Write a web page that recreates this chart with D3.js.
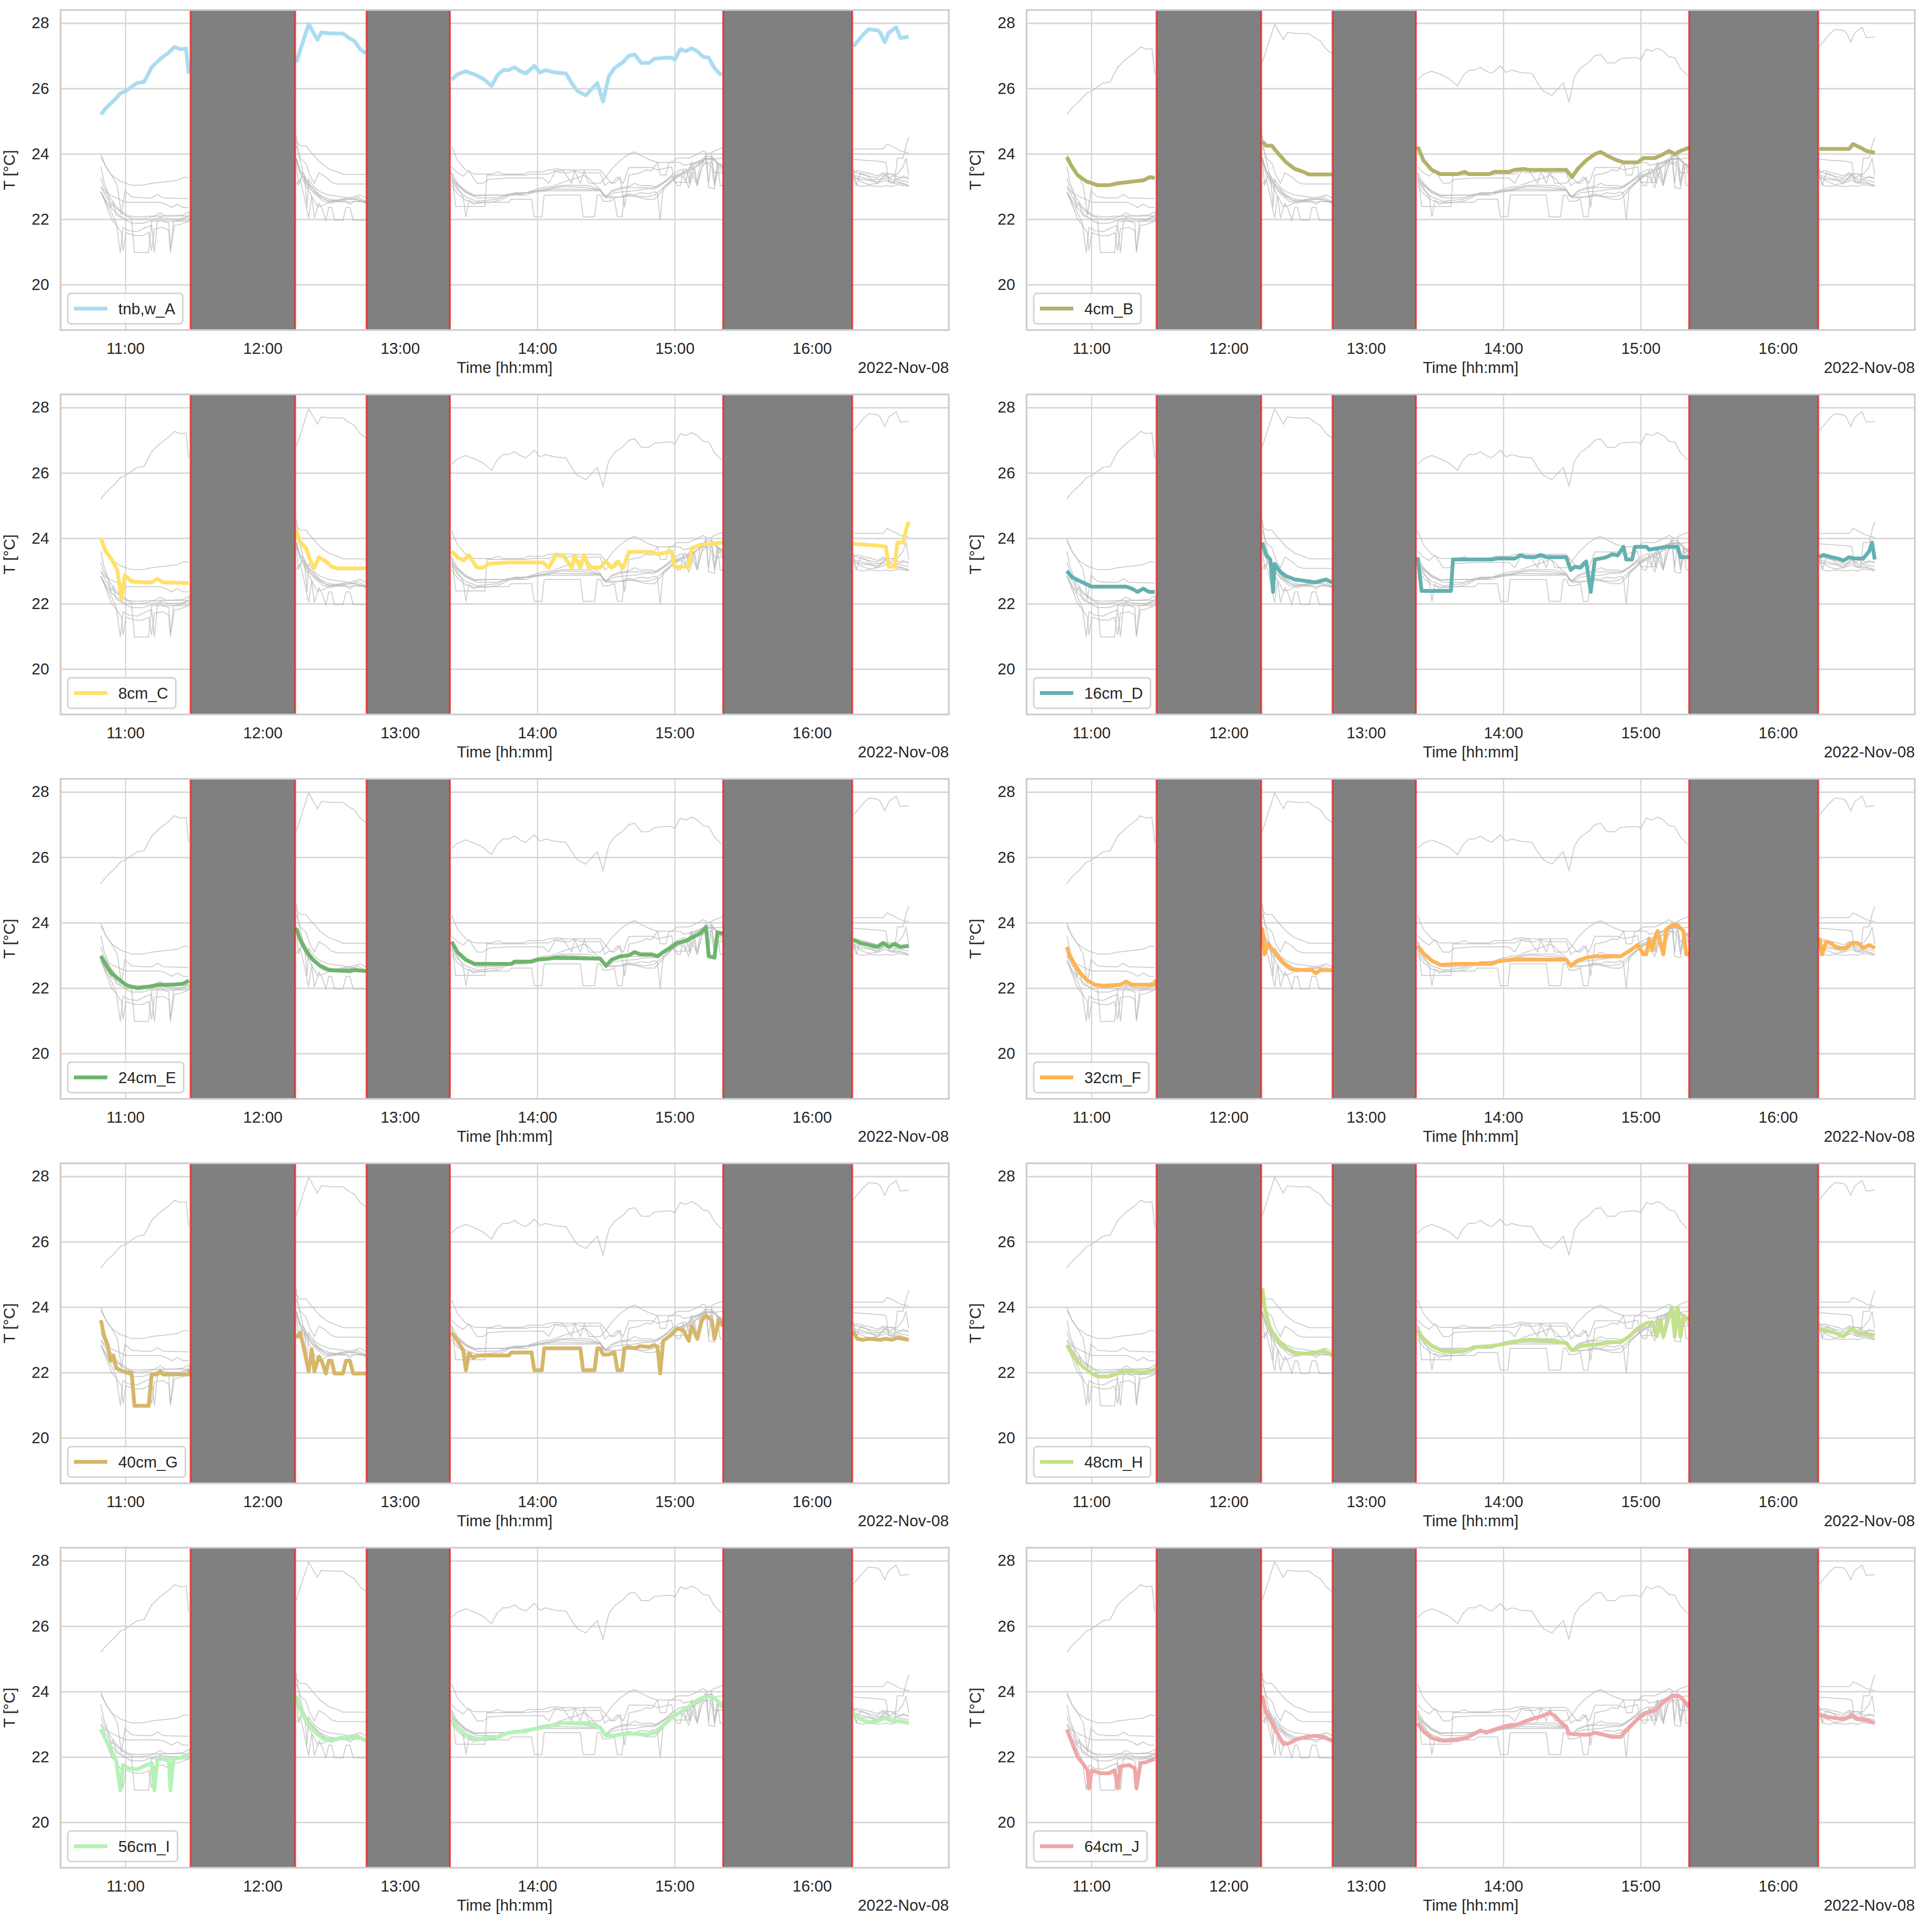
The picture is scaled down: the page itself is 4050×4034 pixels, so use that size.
<!DOCTYPE html>
<html>
<head>
<meta charset="utf-8">
<script src="https://cdn.jsdelivr.net/npm/d3@7"></script>
<style>
  body { margin: 0; background: #fff; }
  svg text { font-family: "Liberation Sans", Arial, sans-serif; fill: #262626; }
</style>
</head>
<body>
<div id="chart"></div>
<script>
const FIG_W = 4050;
const FIG_H = 4034;
const COL_X = [127, 2152];
const ROW_Y = [21, 827, 1633, 2439, 3245];
const AX_W = 1862;
const AX_H = 671;
const FONT = 33;

// times are minutes after 10:00 on 2022-11-08
const DAY = new Date(2022, 10, 8, 10, 0);
const X_DOMAIN = [31.7, 419.8];
const Y_DOMAIN = [18.61, 28.40];
const Y_TICKS = [20, 22, 24, 26, 28];
const DATE_LABEL = "2022-Nov-08";

// periods without data (grey boxes)
const GAPS = [[88.5, 134.2], [165.4, 201.8], [321.2, 377.6]];

const SERIES_NAMES = ["tnb,w_A", "4cm_B", "8cm_C", "16cm_D", "24cm_E", "32cm_F", "40cm_G", "48cm_H", "56cm_I", "64cm_J"];
const SERIES_COLORS = ["#abdcf1", "#b3b26a", "#ffe169", "#62b1b1", "#6db56d", "#ffb354", "#d6b66a", "#c3e08a", "#b5f2b5", "#f1a7a7"];

const TNB_W_A = [
  [49.3,25.2],[51.5,25.4],[55.3,25.65],[57.8,25.85],[60.2,25.92],[62.7,26.05],[65.2,26.17],[68.2,26.2],[71.5,26.65],[75.2,26.9],[79,27.1],[81.5,27.27],[84,27.2],[86.5,27.22],[87.7,26.45],
  [134.7,26.8],[140.1,27.97],[143.9,27.49],[145.6,27.71],[150.1,27.68],[155.1,27.68],[157.6,27.55],[160.1,27.45],[162.6,27.2],[165.1,27.07],
  [202.6,26.27],[205.1,26.43],[208.7,26.53],[212.5,26.43],[216.3,26.3],[220,26.08],[222.5,26.4],[225,26.56],[227.5,26.56],[230,26.65],[232.5,26.53],[235,26.46],[238.7,26.69],[241.2,26.49],[243.7,26.56],[247.5,26.49],[252.5,26.46],[255,26.17],[257.5,25.92],[261.2,25.79],[266.2,26.17],[268.7,25.6],[271.2,26.37],[273.7,26.62],[277.5,26.81],[280,27.0],[282.5,27.04],[285.5,26.78],[288.7,26.78],[291.2,26.91],[296.2,26.94],[298.7,26.94],[300,26.88],[302.5,27.2],[304.9,27.14],[307.4,27.23],[309.9,27.14],[312.4,26.97],[314.9,26.94],[317.4,26.62],[320.4,26.4],
  [378.1,27.29],[382.4,27.65],[384.8,27.81],[388.6,27.78],[389.8,27.71],[391.8,27.42],[393.6,27.71],[396.8,27.87],[398.6,27.55],[402.3,27.58]
];
const CM4_B = [
  [49.3,23.9],[51.5,23.61],[54,23.35],[57.8,23.16],[62.7,23.04],[67.7,23.04],[71.5,23.1],[75.2,23.13],[79,23.16],[82.7,23.19],[85.7,23.29],[87.7,23.26],
  [134.7,24.38],[136.4,24.25],[138.9,24.25],[141.4,24.03],[145.1,23.74],[148.9,23.54],[152.6,23.45],[155.1,23.37],[165.1,23.37],
  [202.6,24.22],[205.1,23.8],[208.7,23.51],[212.5,23.38],[220,23.38],[223,23.45],[225,23.38],[233.7,23.38],[236.2,23.45],[242.5,23.45],[245,23.51],[248.8,23.54],[251.2,23.51],[267.5,23.51],[270,23.29],[272.5,23.54],[276.2,23.8],[280,23.99],[282.5,24.06],[285,23.96],[288.7,23.83],[292.5,23.74],[298.7,23.74],[301.2,23.87],[306.2,23.87],[309.9,23.99],[312.4,24.09],[314.9,23.99],[317.4,24.09],[321.2,24.19],
  [378.1,24.15],[391.1,24.15],[392.8,24.3],[396.1,24.19],[398.6,24.09],[402.3,24.03]
];
const CM8_C = [
  [49.3,23.99],[51.5,23.6],[54,23.35],[56.5,23.03],[58.3,22.13],[59.8,22.87],[62.7,22.68],[67.7,22.65],[71.5,22.65],[74,22.76],[76.5,22.65],[87.7,22.63],
  [134.7,24.25],[136.4,23.87],[138.9,23.71],[140.6,23.35],[142.6,23.1],[144.6,23.42],[147.6,23.29],[150.1,23.13],[152.6,23.08],[165.1,23.08],
  [202.6,23.6],[205.1,23.42],[207.6,23.32],[210.1,23.48],[213.7,23.1],[216.3,23.1],[218.8,23.22],[227.5,23.26],[242.5,23.26],[245,23.1],[248,23.48],[251.3,23.48],[255,23.1],[256.3,23.48],[258.8,23.1],[260.5,23.48],[262.5,23.1],[267.5,23.1],[270,23.29],[272.5,23.1],[275,23.29],[277.5,23.1],[280,23.58],[290,23.58],[292.5,23.51],[298.7,23.6],[300,23.13],[306.2,23.13],[307.4,23.7],[311.2,23.8],[321.2,23.87],
  [378.1,23.83],[389.8,23.77],[392.3,23.74],[393.6,23.13],[396.1,23.13],[397.3,23.87],[399.8,23.87],[401.1,24.25],[402.3,24.51]
];
const CM16_D = [
  [49.3,23.0],[51.5,22.81],[55.3,22.68],[60.2,22.52],[75.2,22.52],[77.7,22.46],[80.2,22.36],[82.7,22.46],[85.2,22.36],[87.7,22.36],
  [134.7,23.87],[136.4,23.48],[138.2,23.35],[139.4,22.36],[140.1,23.22],[142.6,22.97],[145.1,22.84],[148.9,22.74],[155.1,22.68],[157.6,22.65],[162.6,22.74],[165.1,22.65],
  [202.6,23.42],[204.3,22.39],[217.1,22.39],[218,23.35],[235,23.35],[237.5,23.38],[245,23.38],[247.5,23.48],[250,23.42],[253.8,23.42],[256.3,23.49],[258.8,23.42],[267.5,23.42],[269.5,23.03],[271.2,23.13],[273.7,23.1],[276.2,23.29],[278.2,22.36],[280,23.35],[282.5,23.38],[285,23.42],[287.5,23.51],[290,23.48],[292.5,23.74],[293.7,23.35],[296.2,23.35],[297.5,23.74],[302.5,23.74],[303.7,23.65],[308.7,23.71],[311.2,23.74],[316.2,23.74],[317.4,23.42],[321.2,23.42],
  [378.1,23.42],[379.8,23.49],[383.6,23.42],[386.1,23.38],[388.6,23.32],[391.1,23.42],[393.6,23.38],[397.3,23.38],[399.8,23.6],[401.1,23.87],[402.3,23.35]
];
const CM24_E = [
  [49.3,22.98],[51.5,22.71],[54,22.45],[57.8,22.23],[60.2,22.1],[62.7,22.04],[65.2,22.0],[70.2,22.04],[74,22.1],[80.2,22.1],[85.2,22.13],[87.7,22.23],
  [134.7,23.83],[136.4,23.48],[138.9,23.16],[141.4,22.9],[145.1,22.68],[148.9,22.55],[157.6,22.52],[160.1,22.55],[165.1,22.52],
  [202.6,23.42],[205.1,23.1],[208.7,22.87],[212.5,22.74],[228.8,22.74],[230,22.81],[237.5,22.81],[240,22.87],[245,22.9],[247.5,22.93],[267.5,22.9],[270,22.68],[272.5,22.87],[276.2,22.97],[280,23.0],[282.5,23.1],[285,23.03],[290,23.03],[292.5,22.97],[295,23.1],[298.7,23.26],[301.2,23.38],[305,23.45],[307.4,23.54],[311.2,23.67],[313.7,23.86],[314.9,22.97],[317.4,22.93],[318.7,23.7],[321.2,23.67],
  [378.1,23.48],[381.1,23.38],[384.8,23.32],[388.6,23.26],[391.1,23.38],[393.6,23.26],[396.1,23.35],[398.6,23.26],[402.3,23.29]
];
const CM32_F = [
  [49.3,23.26],[50.3,23.03],[52.8,22.71],[55.3,22.45],[57.8,22.26],[61.5,22.1],[65.2,22.07],[72.7,22.1],[75.2,22.2],[77.7,22.1],[87.7,22.1],[88.2,22.26],
  [134.7,23.83],[135.7,23.03],[137.2,23.35],[140.1,23.1],[143.9,22.78],[147.6,22.58],[152.6,22.55],[156.4,22.55],[158.1,22.45],[160.1,22.55],[165.1,22.55],
  [202.6,23.29],[205.1,23.06],[208.7,22.84],[212.5,22.71],[220,22.74],[235,22.74],[237.5,22.81],[241.3,22.85],[245,22.87],[267.5,22.87],[269.5,22.68],[272.5,22.84],[276.2,22.93],[280,22.97],[291.2,22.97],[295,23.13],[298.7,23.32],[301.2,23.03],[302.5,23.03],[303.7,23.51],[305,23.16],[306.2,23.54],[307.4,23.74],[309.9,23.03],[311.2,23.8],[313.7,23.92],[316.2,23.92],[318.7,23.74],[319.9,23.03],[321.2,23.03],
  [378.1,23.54],[379.3,23.03],[381.1,23.42],[383.6,23.35],[386.1,23.22],[389.8,23.22],[392.3,23.38],[394.8,23.38],[397.3,23.22],[399.8,23.32],[402.3,23.22]
];
const CM40_G = [
  [49.3,23.6],[50.8,23.1],[52.3,22.84],[53.5,22.36],[54.8,22.52],[56,22.13],[57.8,22.07],[60.2,22.0],[62.7,22.0],[64,20.98],[70.2,20.98],[71.5,21.94],[74,21.94],[75.2,22.04],[76.5,21.94],[87.7,21.94],[88.2,22.1],
  [134.7,23.06],[136.4,23.22],[137.7,22.84],[139.2,22.33],[140.1,22.04],[141.4,22.71],[142.6,22.04],[144.6,22.49],[145.9,22.33],[147.6,21.97],[148.9,22.36],[150.1,22.36],[151.4,21.97],[155.1,21.97],[156.4,22.36],[158.1,22.36],[159.6,21.97],[165.1,21.97],
  [202.6,23.22],[205.1,22.97],[207.6,22.68],[208.8,22.07],[210.1,22.58],[212.1,22.45],[213.8,22.52],[227.5,22.52],[228.7,22.61],[237.5,22.61],[238.7,22.07],[242,22.07],[243,22.74],[258.8,22.74],[260,22.07],[265,22.07],[266.2,22.74],[267.5,22.74],[268.7,22.55],[271.2,22.55],[273.7,22.61],[275,22.07],[277,22.07],[278,22.74],[280,22.78],[282.5,22.74],[285,22.81],[288.7,22.78],[291.2,22.84],[292.5,22.78],[293.7,21.97],[295,22.97],[298.7,23.16],[301.2,23.35],[303.7,23.29],[306.2,22.97],[307.4,23.42],[309.9,23.03],[311.9,23.6],[313.7,23.74],[316.2,23.6],[317.4,23.03],[319.4,23.6],[321.2,23.42],
  [378.1,23.26],[379.8,23.03],[382.4,23.0],[384.8,23.03],[389.8,23.0],[392.3,23.03],[394.8,23.0],[397.3,23.06],[399.8,23.03],[402.3,23.0]
];
const CM48_H = [
  [49.3,22.84],[51.5,22.58],[54,22.33],[57.8,22.1],[60.2,21.97],[62.7,21.88],[67.7,21.88],[71.5,21.97],[75.2,22.07],[79,22.01],[84,22.01],[87.7,22.1],
  [134.7,24.57],[135.7,23.99],[137.7,23.42],[140.1,23.1],[142.6,22.9],[145.1,22.74],[148.9,22.61],[152.6,22.58],[158.9,22.61],[161.4,22.68],[163.9,22.58],[165.1,22.55],
  [202.6,23.29],[205.1,23.03],[208.7,22.81],[213.7,22.65],[222.5,22.65],[227.5,22.78],[235,22.81],[240,22.87],[247.5,22.97],[251.3,23.0],[261.2,22.97],[267.5,22.9],[270,22.68],[273.7,22.81],[277.5,22.84],[282.5,22.87],[287.5,22.93],[291.2,22.93],[295,23.1],[298.7,23.35],[302.5,23.51],[305,23.54],[306.9,23.1],[308.7,23.6],[309.9,23.1],[312.4,23.74],[313.7,23.99],[314.9,23.1],[316.2,23.99],[317.4,23.1],[318.7,23.74],[321.2,23.6],
  [378.1,23.35],[381.1,23.29],[384.8,23.22],[388.6,23.1],[392.3,23.35],[394.8,23.22],[398.6,23.19],[402.3,23.13]
];
const CM56_I = [
  [49.3,22.84],[51.5,22.52],[54,22.2],[56,21.88],[57.8,20.98],[59,21.75],[61.5,21.65],[65.2,21.62],[69,21.75],[71.5,21.81],[72.7,20.98],[74,21.94],[76.5,21.94],[79,21.88],[79.7,20.98],[81,21.94],[84,21.97],[87.7,22.07],
  [134.7,23.87],[136.4,23.48],[138.9,23.1],[142.6,22.78],[146.4,22.55],[150.1,22.49],[153.9,22.58],[158.9,22.61],[162.6,22.58],[165.1,22.49],
  [202.6,23.16],[205.1,22.9],[208.7,22.68],[213.7,22.55],[222.5,22.61],[227.5,22.74],[232.5,22.78],[237.5,22.84],[245,22.93],[250,23.03],[253.8,23.04],[262.5,23.03],[267.5,22.9],[270,22.65],[273.7,22.65],[277.5,22.71],[282.5,22.71],[287.5,22.68],[291.2,22.74],[295,22.97],[298.7,23.19],[302.5,23.38],[306.2,23.54],[309.9,23.74],[313.7,23.85],[316.2,23.85],[318.7,23.71],[321.2,23.54],
  [378.1,23.32],[381.1,23.16],[384.8,23.06],[388.6,23.1],[392.3,23.19],[394.8,23.1],[398.6,23.1],[402.3,23.03]
];
const CM64_J = [
  [49.3,22.84],[51.5,22.45],[54,22.0],[56.5,21.78],[58.3,21.59],[59,21.04],[60.2,21.59],[64,21.5],[67.7,21.5],[70.2,21.59],[71.5,21.04],[72.7,21.71],[76.5,21.75],[79,21.65],[79.7,21.04],[81.5,21.81],[84,21.84],[87.7,21.94],
  [134.7,23.87],[136.4,23.35],[138.9,23.03],[141.4,22.71],[143.9,22.39],[146.4,22.42],[150.1,22.55],[153.9,22.61],[157.6,22.65],[161.4,22.61],[165.1,22.49],
  [202.6,23.03],[205.1,22.78],[208.7,22.58],[213.7,22.49],[220,22.52],[223.8,22.58],[227.5,22.71],[230,22.81],[232.5,22.74],[235,22.81],[238.8,22.9],[242.5,22.97],[246.3,23.0],[250,23.1],[253.8,23.19],[257.5,23.26],[260,23.35],[262.5,23.26],[265,23.06],[267.5,22.93],[268.7,22.71],[273.7,22.68],[277.5,22.68],[280,22.74],[283.7,22.68],[287.5,22.61],[291.2,22.61],[295,22.9],[298.7,23.16],[302.5,23.35],[306.2,23.42],[309.9,23.67],[313.7,23.86],[316.9,23.86],[318.7,23.74],[321.2,23.54],
  [378.1,23.29],[381.1,23.22],[384.8,23.19],[388.6,23.16],[392.3,23.26],[394.8,23.16],[398.6,23.13],[402.3,23.03]
];

const SERIES_DATA = [TNB_W_A, CM4_B, CM8_C, CM16_D, CM24_E, CM32_F, CM40_G, CM48_H, CM56_I, CM64_J];

const toTime = (m) => new Date(DAY.getTime() + m * 60000);

// split a series into runs that don't cross a gap
function segments(points) {
  let out = [], cur = [];
  points.forEach((p, i) => {
    if (i > 0) {
      let prev = points[i - 1];
      let crosses = GAPS.some(g => prev[0] < g[1] && p[0] > g[0]);
      if (crosses) { out.push(cur); cur = []; }
    }
    cur.push(p);
  });
  out.push(cur);
  return out;
}

const X_SCALE = d3.scaleTime()
  .domain(X_DOMAIN.map(toTime))
  .range([0, AX_W]);

const Y_SCALE = d3.scaleLinear()
  .domain(Y_DOMAIN)
  .range([AX_H, 0]);

const LINE = d3.line()
  .x(d => X_SCALE(toTime(d[0])))
  .y(d => Y_SCALE(d[1]));

const SVG = d3.select("#chart")
  .append("svg")
    .attr("width", FIG_W)
    .attr("height", FIG_H)
    .style("display", "block");

SVG.append("rect").attr("width", FIG_W).attr("height", FIG_H).attr("fill", "#fff");

SERIES_NAMES.forEach((name, idx) => {
  const left = COL_X[idx % 2];
  const top = ROW_Y[Math.floor(idx / 2)];
  const g = SVG.append("g").attr("transform", "translate(" + left + "," + top + ")");

  const clipId = "clip" + idx;
  g.append("clipPath").attr("id", clipId)
    .append("rect").attr("width", AX_W).attr("height", AX_H);

  // grid
  const yGrid = g.append("g")
    .call(d3.axisLeft(Y_SCALE).tickValues(Y_TICKS).tickSize(-AX_W).tickFormat(""));
  const xGrid = g.append("g")
    .attr("transform", "translate(0," + AX_H + ")")
    .call(d3.axisBottom(X_SCALE).ticks(d3.timeHour.every(1)).tickSize(-AX_H).tickFormat(""));
  [yGrid, xGrid].forEach(a => {
    a.select(".domain").remove();
    a.selectAll("line").attr("stroke", "#d5d5d5").attr("stroke-width", 3);
  });
  xGrid.selectAll("line").attr("stroke-width", 2.5);

  const plot = g.append("g").attr("clip-path", "url(#" + clipId + ")");

  // all series in grey behind
  SERIES_DATA.forEach(series => {
    segments(series).forEach(seg => {
      plot.append("path")
        .attr("d", LINE(seg))
        .attr("fill", "none")
        .attr("stroke", "#b8b8b8")
        .attr("stroke-opacity", 0.7)
        .attr("stroke-width", 2);
    });
  });

  // highlighted series
  segments(SERIES_DATA[idx]).forEach(seg => {
    plot.append("path")
      .attr("d", LINE(seg))
      .attr("fill", "none")
      .attr("stroke", SERIES_COLORS[idx])
      .attr("stroke-width", 8)
      .attr("stroke-linejoin", "round");
  });

  // gaps
  GAPS.forEach(gap => {
    const x0 = X_SCALE(toTime(gap[0])), x1 = X_SCALE(toTime(gap[1]));
    plot.append("rect")
      .attr("x", x0).attr("y", 0)
      .attr("width", x1 - x0).attr("height", AX_H)
      .attr("fill", "#808080");
    [x0, x1].forEach(xv => {
      plot.append("line")
        .attr("x1", xv).attr("x2", xv)
        .attr("y1", 0).attr("y2", AX_H)
        .attr("stroke", "#e8211c")
        .attr("stroke-opacity", 0.75)
        .attr("stroke-width", 4);
    });
  });

  // frame
  g.append("rect")
    .attr("width", AX_W).attr("height", AX_H)
    .attr("fill", "none")
    .attr("stroke", "#cccccc")
    .attr("stroke-width", 3.5);

  // tick labels
  const yAxis = g.append("g")
    .call(d3.axisLeft(Y_SCALE).tickValues(Y_TICKS).tickSize(0).tickPadding(24));
  const xAxis = g.append("g")
    .attr("transform", "translate(0," + AX_H + ")")
    .call(d3.axisBottom(X_SCALE).ticks(d3.timeHour.every(1)).tickSize(0).tickPadding(27)
      .tickFormat(d3.timeFormat("%H:%M")));
  [yAxis, xAxis].forEach(a => {
    a.select(".domain").remove();
    a.selectAll("text")
      .attr("font-size", FONT)
      .attr("font-family", "Liberation Sans, Arial, sans-serif")
      .attr("fill", "#262626");
  });

  g.append("text")
    .attr("transform", "translate(-96," + (AX_H / 2) + ") rotate(-90)")
    .attr("text-anchor", "middle")
    .attr("font-size", FONT)
    .text("T [°C]");

  g.append("text")
    .attr("x", AX_W / 2).attr("y", AX_H + 90)
    .attr("text-anchor", "middle")
    .attr("font-size", FONT)
    .text("Time [hh:mm]");

  g.append("text")
    .attr("x", AX_W).attr("y", AX_H + 90)
    .attr("text-anchor", "end")
    .attr("font-size", FONT)
    .text(DATE_LABEL);

  // legend
  const leg = g.append("g").attr("transform", "translate(15," + (AX_H - 77) + ")");
  const box = leg.append("rect")
    .attr("height", 64).attr("rx", 7)
    .attr("fill", "#fff").attr("fill-opacity", 0.8)
    .attr("stroke", "#d0d0d0").attr("stroke-width", 3);
  leg.append("line")
    .attr("x1", 13).attr("x2", 83)
    .attr("y1", 32).attr("y2", 32)
    .attr("stroke", SERIES_COLORS[idx])
    .attr("stroke-width", 8);
  const lt = leg.append("text")
    .attr("x", 106).attr("y", 32)
    .attr("dy", "0.35em")
    .attr("font-size", FONT)
    .text(name);
  box.attr("width", 106 + lt.node().getComputedTextLength() + 16);
});
</script>
</body>
</html>
